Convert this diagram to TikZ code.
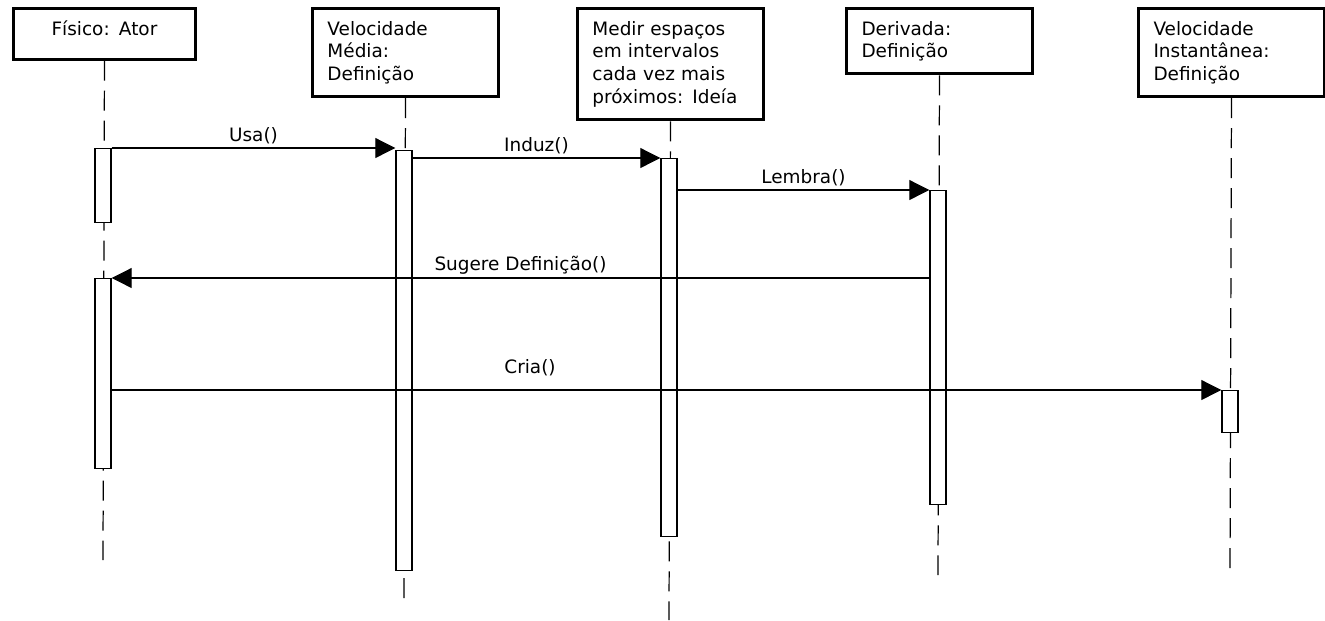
\documentclass[tikz,border=0pt]{standalone}
\usepackage{fontspec}
\setmainfont{DejaVu Sans}
\usetikzlibrary{arrows.meta}

\tikzset{
  objbox/.style={rectangle, draw, line width=1.7pt, anchor=north west, align=left,
    text width=3.12cm, inner xsep=0.3cm, inner ysep=0.25cm, font=\fontsize{10.5}{13}\selectfont},
  lifeline/.style={dash pattern=on 0.4cm off 0.2cm, line width=0.7pt},
  actbar/.style={rectangle, draw, fill=white, anchor=north, minimum width=0.32cm,
    inner sep=0pt, line width=0.8pt},
  msg/.style={-{Triangle[length=0.4cm,width=0.4cm]}, line width=0.6pt},
  msglabel/.style={font=\fontsize{10.5}{13}\selectfont, above, inner sep=2pt}
}

\begin{document}
\begin{tikzpicture}[x=0.02cm, y=-0.02cm]
    \useasboundingbox (0,0) rectangle (1325,620);

    % objects
    \node (fis) at (12,7) [objbox, align=center, text width=3.04cm, text depth=0.22cm] {Físico: Ator};
    \node (med) at (311,7) [objbox] {Velocidade\\Média:\\Definição};
    \node (mdr) at (576,7) [objbox] {Medir espaços\\em intervalos\\cada vez mais\\próximos: Ideía};
    \node (der) at (845,7) [objbox] {Derivada:\\Definição};
    \node (ins) at (1137,7) [objbox] {Velocidade\\Instantânea:\\Definição};

    % lifelines
    \coordinate (fisend) at (103,560);
    \coordinate (medend) at (404,600);
    \coordinate (mdrend) at (669,620);
    \coordinate (derend) at (938,575);
    \coordinate (insend) at (1230,575);
    \draw[lifeline] (fis.south) -- (fisend);
    \draw[lifeline] (med.south) -- (medend);
    \draw[lifeline] (mdr.south) -- (mdrend);
    \draw[lifeline] (der.south) -- (derend);
    \draw[lifeline] (ins.south) -- (insend);

    % activation bars
    \node (fisa) at (103,148) [actbar, minimum height=1.48cm] {};
    \node (fisb) at (103,278) [actbar, minimum height=3.8cm] {};
    \node (medbar) at (404,150) [actbar, minimum height=8.4cm] {};
    \node (mdrbar) at (669,158) [actbar, minimum height=7.56cm] {};
    \node (derbar) at (938,190) [actbar, minimum height=6.28cm] {};
    \node (insbar) at (1230,390) [actbar, minimum height=0.84cm] {};

    % messages
    \draw[msg] (fisa.north east) -- (fisa.north east -| medbar.west) node[msglabel, midway] {Usa()}; % F -> VM
    \draw[msg] (medbar.east |- mdrbar.north) -- (mdrbar.north west) node[msglabel, midway] {Induz()}; % VM -> I
    \draw[msg] (mdrbar.east |- derbar.north) -- (derbar.north west) node[msglabel, midway] {Lembra()}; % I -> D
    \draw[msg] (derbar.west |- fisb.north) -- (fisb.north east) node[msglabel, midway] {Sugere Definição()}; % D -> F
    \draw[msg] (fisb.east |- insbar.north) -- (insbar.north west) node[msglabel, pos=0.377, yshift=0.2cm] {Cria()}; % F -> VI

\end{tikzpicture}
\end{document}
